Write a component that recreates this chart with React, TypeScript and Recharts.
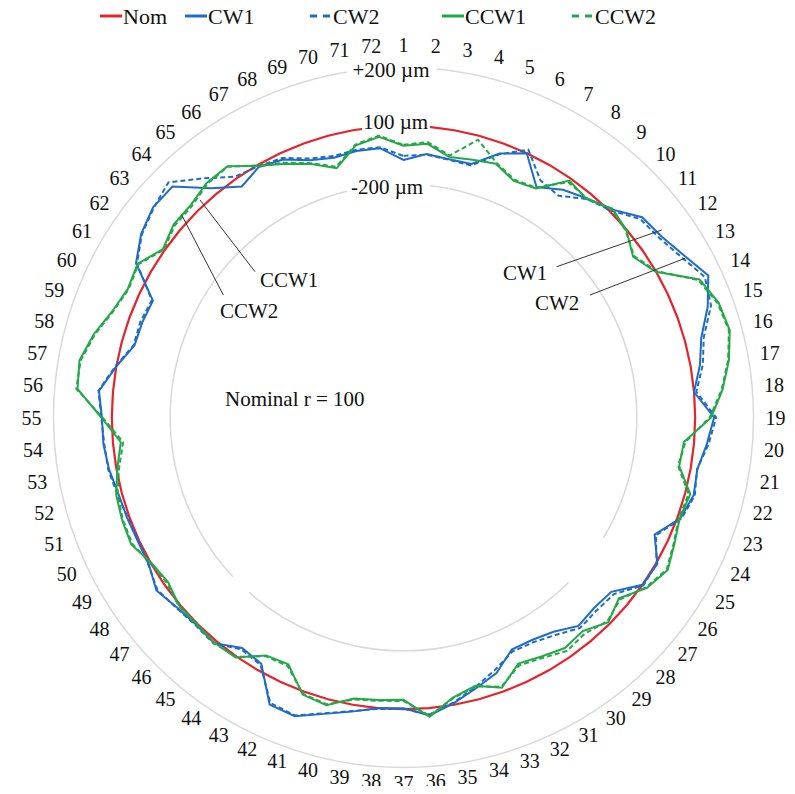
import { RadarChart, Radar, PolarGrid, PolarAngleAxis, PolarRadiusAxis } from "recharts";

// deviation from nominal radius (µm), one value per measuring point 1..72
const points = [
  "1", "2", "3", "4", "5", "6", "7", "8", "9", "10", "11", "12",
  "13", "14", "15", "16", "17", "18", "19", "20", "21", "22", "23", "24",
  "25", "26", "27", "28", "29", "30", "31", "32", "33", "34", "35", "36",
  "37", "38", "39", "40", "41", "42", "43", "44", "45", "46", "47", "48",
  "49", "50", "51", "52", "53", "54", "55", "56", "57", "58", "59", "60",
  "61", "62", "63", "64", "65", "66", "67", "68", "69", "70", "71", "72",
];

const nom = [
  0, 0, 0, 0, 0, 0, 0, 0, 0, 0, 0, 0,
  0, 0, 0, 0, 0, 0, 0, 0, 0, 0, 0, 0,
  0, 0, 0, 0, 0, 0, 0, 0, 0, 0, 0, 0,
  0, 0, 0, 0, 0, 0, 0, 0, 0, 0, 0, 0,
  0, 0, 0, 0, 0, 0, 0, 0, 0, 0, 0, 0,
  0, 0, 0, 0, 0, 0, 0, 0, 0, 0, 0, 0,
];

const cw1 = [
  -117, -93, -101, -100, -37, 0, -88, -47, -20, 9, 68, 81,
  111, 153, 110, 57, 32, 0, 65, 44, 23, 30, 10, -50,
  5, 0, -70, -76, -67, -103, -119, -122, -68, -39, -6, 25,
  -3, 1, 24, 52, 90, 86, -25, -35, 10, 5, 14, 34,
  8, 5, 8, 12, 25, 33, 34, 48, 1, -45, -47, -52,
  59, 98, 121, 120, 26, -33, -8, -24, -61, -78, -72, -73,
];

const cw2 = [
  -103, -95, -103, -105, -40, 13, -61, -72, -22, 4, 59, 72,
  100, 140, 122, 66, 42, 8, 72, 50, 22, 34, 14, -45,
  2, 4, -58, -64, -58, -90, -110, -115, -80, -44, -8, 22,
  -1, 3, 22, 50, 87, 80, -20, -30, 12, 8, 16, 30,
  10, 2, 6, 16, 28, 30, 36, 50, 4, -42, -40, -48,
  55, 95, 118, 140, 70, 8, -5, -18, -55, -72, -68, -70,
];

const ccw1 = [
  -68, -58, -93, -85, -74, -105, -93, -8, -23, 13, -2, -39,
  -1, 120, 150, 158, 133, 98, 55, -35, -40, 18, 8, 25,
  46, 19, -36, -7, -44, -35, -54, -69, -14, -48, -25, 30,
  -32, -28, -22, 21, 11, -66, -58, 4, 8, 2, 4, -15,
  -2, 30, 27, 20, -4, -27, 36, 122, 128, 100, 63, 43,
  53, 7, 29, 31, 50, 52, -4, -40, -75, -115, -53, -34,
];

const ccw2 = [
  -65, -52, -88, -14, -70, -100, -90, -15, -20, 10, -5, -35,
  3, 115, 146, 155, 130, 95, 50, -30, -44, 12, 5, 22,
  42, 15, -30, -12, -33, -23, -48, -62, -18, -45, -22, 26,
  -28, -25, -18, 18, 8, -60, -55, 2, 10, 4, 6, -10,
  0, 26, 24, 15, -10, -35, 32, 126, 124, 96, 60, 40,
  50, 3, 24, 26, 46, 50, -2, -36, -72, -110, -50, -30,
];

const radiusTicks = [-200, 0, 200];

const data = points.map((p, i) => ({
  point: p,
  nom: nom[i],
  cw1: cw1[i],
  cw2: cw2[i],
  ccw1: ccw1[i],
  ccw2: ccw2[i],
}));

const W = 779;
const H = 786;
const CX = 395.5;
const CY = 409.5;
const R = 350;
const INNER_R = 233.3;

const RED = "#e6242b";
const BLUE = "#1f6cc6";
const GREEN = "#24a84a";
const FONT = "Liberation Serif";

// excel puts the category labels a bit closer at top/bottom than at the sides
function AngleTick(props: any) {
  const { x, y, payload } = props;
  const dx = x - CX;
  const dy = y - CY;
  const len = Math.hypot(dx, dy) || 1;
  const ux = dx / len;
  const uy = dy / len;
  const r = 369 + 3 * ux * ux;
  return (
    <text
      x={CX + ux * r}
      y={CY + uy * r - 4 * uy * uy}
      textAnchor="middle"
      dominantBaseline="central"
      style={{ fontFamily: FONT, fontSize: 20 }}
      fill="#111"
    >
      {payload.value}
    </text>
  );
}

const legendItems = [
  { name: "Nom", color: RED, dashed: false, x: 92 },
  { name: "CW1", color: BLUE, dashed: false, x: 177 },
  { name: "CW2", color: BLUE, dashed: true, x: 302 },
  { name: "CCW1", color: GREEN, dashed: false, x: 434 },
  { name: "CCW2", color: GREEN, dashed: true, x: 564 },
];

// small breaks in the inner grid circle, as in the original figure
const gridGaps = [
  [121, 135],
  [221.5, 227],
];

function arcPath(r: number, a0: number, a1: number) {
  const p = (a: number) => {
    const t = (a * Math.PI) / 180;
    return `${CX + r * Math.sin(t)} ${CY - r * Math.cos(t)}`;
  };
  return `M ${p(a0)} A ${r} ${r} 0 0 1 ${p(a1)}`;
}

function Overlay() {
  const txt = { style: { fontFamily: FONT, fontSize: 21 }, fill: "#111" };
  return (
    <svg
      width={W}
      height={H}
      style={{ position: "absolute", left: 0, top: 0, pointerEvents: "none", overflow: "visible" }}
    >
      {gridGaps.map(([a0, a1]) => (
        <path key={a0} d={arcPath(INNER_R, a0, a1)} stroke="#fff" strokeWidth={4} fill="none" />
      ))}

      {legendItems.map((it) => (
        <g key={it.name}>
          <line
            x1={it.x}
            x2={it.x + 22}
            y1={8}
            y2={8}
            stroke={it.color}
            strokeWidth={3}
            strokeDasharray={it.dashed ? "7 6" : undefined}
          />
          <text x={it.x + 23} y={16} style={{ fontFamily: FONT, fontSize: 22 }} fill="#111">
            {it.name}
          </text>
        </g>
      ))}

      {/* scale labels sitting on the circles */}
      <rect x={339} y={52} width={90} height={20} fill="#fff" />
      <text x={383} y={68.7} textAnchor="middle" {...txt}>+200 µm</text>
      <rect x={354} y={105} width={68} height={20} fill="#fff" />
      <text x={387.5} y={121.3} textAnchor="middle" {...txt}>100 µm</text>
      <rect x={339} y={169} width={83} height={21} fill="#fff" />
      <text x={379} y={186.3} textAnchor="middle" {...txt}>-200 µm</text>

      {/* leaders */}
      <line x1={548.7} y1={258.7} x2={653.7} y2={222} stroke="#333" strokeWidth={1} />
      <line x1={582} y1={287} x2={677} y2={250.3} stroke="#333" strokeWidth={1} />
      <line x1={247} y1={263.7} x2={192} y2={192} stroke="#333" strokeWidth={1} />
      <line x1={215.3} y1={287} x2={173.7} y2={207} stroke="#333" strokeWidth={1} />
      <text x={495} y={272} {...txt}>CW1</text>
      <text x={527} y={302} {...txt}>CW2</text>
      <text x={252} y={278.7} {...txt}>CCW1</text>
      <text x={212} y={310} {...txt}>CCW2</text>
      <text x={217} y={398} {...txt}>Nominal r = 100</text>
    </svg>
  );
}

export default function App() {
  return (
    <div style={{ position: "relative", width: W, height: 778, background: "#fff" }}>
      <RadarChart
        width={W}
        height={H}
        data={data}
        cx={CX}
        cy={CY}
        outerRadius={R}
        margin={{ top: 0, right: 0, bottom: 0, left: 0 }}
      >
        <PolarGrid gridType="circle" radialLines={false} stroke="#d9d9d9" strokeWidth={1.5} />
        <PolarAngleAxis dataKey="point" axisLine={false} tickLine={false} tick={<AngleTick />} />
        <PolarRadiusAxis
          type="number"
          domain={[-1000, 200]}
          ticks={radiusTicks}
          allowDataOverflow
          axisLine={false}
          tick={false}
        />
        <Radar dataKey="nom" stroke={RED} strokeWidth={2.2} fill="none" dot={false} isAnimationActive={false} />
        <Radar dataKey="cw1" stroke={BLUE} strokeWidth={2} fill="none" dot={false} isAnimationActive={false} />
        <Radar dataKey="cw2" stroke={BLUE} strokeWidth={2} strokeDasharray="5 3" fill="none" dot={false} isAnimationActive={false} />
        <Radar dataKey="ccw1" stroke={GREEN} strokeWidth={2} fill="none" dot={false} isAnimationActive={false} />
        <Radar dataKey="ccw2" stroke={GREEN} strokeWidth={2} strokeDasharray="5 3" fill="none" dot={false} isAnimationActive={false} />
      </RadarChart>
      <Overlay />
    </div>
  );
}
